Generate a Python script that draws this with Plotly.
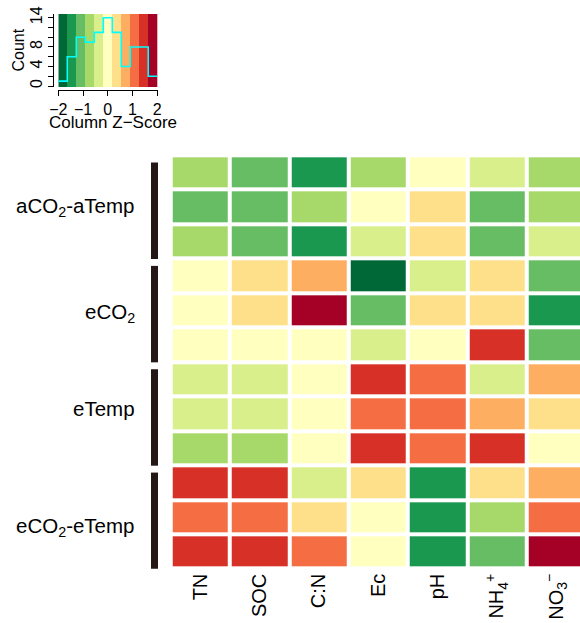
import numpy as np
import plotly.graph_objects as go

# ---------------- data ----------------
columns = ["TN", "SOC", "C:N", "Ec", "pH", "NH<sub>4</sub><sup>+</sup>", "NO<sub>3</sub><sup>−</sup>"]
groups = ["aCO<sub>2</sub>-aTemp", "eCO<sub>2</sub>", "eTemp", "eCO<sub>2</sub>-eTemp"]
group_sizes = [3, 3, 3, 3]

# column z-scores, rows top to bottom
zscores = [
    [-0.75, -1.12, -1.48, -0.70, 0.05, -0.38, -0.74],
    [-1.08, -1.15, -0.80, -0.05, 0.33, -1.05, -0.68],
    [-0.71, -1.02, -1.52, -0.41, 0.40, -1.10, -0.33],
    [0.08, 0.30, 0.70, -1.90, -0.30, 0.38, -1.15],
    [0.02, 0.42, 1.88, -1.05, 0.35, 0.30, -1.50],
    [-0.10, -0.02, 0.12, -0.45, 0.06, 1.40, -1.00],
    [-0.40, -0.35, 0.10, 1.45, 1.02, -0.30, 0.78],
    [-0.37, -0.42, 0.00, 1.15, 1.08, 0.70, 0.25],
    [-0.62, -0.66, -0.08, 1.50, 1.12, 1.32, -0.12],
    [1.38, 1.42, -0.28, 0.40, -1.40, 0.45, 0.62],
    [1.05, 1.10, 0.28, 0.15, -1.55, -0.80, 1.00],
    [1.46, 1.35, 0.95, -0.12, -1.38, -1.20, 1.75],
]

key_ticks = [-2, -1, 0, 1, 2]
key_ticktext = ["−2", "−1", "0", "1", "2"]
count_ticks = [0, 2, 4, 6, 8, 10, 12, 14]
count_ticktext = ["0", "", "4", "", "8", "", "", "14"]

palette = ["#006837", "#1A9850", "#66BD63", "#A6D96A", "#D9EF8B", "#FFFFBF",
           "#FEE08B", "#FDAE61", "#F46D43", "#D73027", "#A50026"]

# ---------------- derived ----------------
Z = np.array(zscores)
nrow, ncol = Z.shape
n = len(palette)
zmin, zmax = -2.0, 2.0
edges = np.linspace(zmin, zmax, n + 1)
centers = (edges[:-1] + edges[1:]) / 2
counts, _ = np.histogram(Z.flatten(), bins=edges)

cs = []
for i, c in enumerate(palette):
    cs.append([i / n, c])
    cs.append([(i + 1) / n, c])

W, H = 580, 623
FONT = "Liberation Sans, Arial, sans-serif"

def px(v):
    return v / W

def py(v):
    return 1 - v / H

fig = go.Figure()

# main heatmap
fig.add_trace(go.Heatmap(
    z=Z, x=list(range(ncol)), y=list(range(nrow)),
    colorscale=cs, zmin=zmin, zmax=zmax, xgap=4, ygap=4,
    showscale=False, xaxis="x", yaxis="y", hoverinfo="skip"))

# colour key strip
fig.add_trace(go.Heatmap(
    z=[centers], x=edges, y=[-1, 16], colorscale=cs, zmin=zmin, zmax=zmax,
    showscale=False, xaxis="x2", yaxis="y2", hoverinfo="skip"))

# histogram line
fig.add_trace(go.Scatter(
    x=edges, y=np.append(counts, counts[-1]), mode="lines",
    line=dict(color="#00FFFF", width=1.6, shape="hv"),
    xaxis="x2", yaxis="y2", showlegend=False, hoverinfo="skip"))

fig.update_layout(
    width=W, height=H, margin=dict(l=0, r=0, t=0, b=0, pad=0, autoexpand=False),
    paper_bgcolor="white", plot_bgcolor="white",
    font=dict(family=FONT, color="black"),
    showlegend=False,
    xaxis=dict(domain=[px(170.7), 1.0], range=[-0.5, 6.402],
               tickvals=list(range(ncol)), ticktext=columns, tickangle=-90,
               tickfont=dict(size=20), showgrid=False, zeroline=False,
               showline=False, ticks="", anchor="y", automargin=False),
    yaxis=dict(domain=[py(568.7), py(155.3)], range=[nrow - 0.5, -0.5],
               visible=False, anchor="x", automargin=False),
    xaxis2=dict(domain=[px(58.3), px(158)], range=[-2, 2.03], anchor="free",
                position=py(89.5), tickvals=key_ticks, ticktext=key_ticktext,
                ticks="outside", ticklen=5, tickcolor="black", tickwidth=1,
                showline=True, linecolor="black", linewidth=1,
                showgrid=False, zeroline=False, tickfont=dict(size=16),
                automargin=False),
    yaxis2=dict(domain=[py(87), py(14)], range=[-0.2, 14.76], anchor="free",
                position=px(53.3), tickvals=count_ticks, ticktext=count_ticktext,
                tickangle=-90, ticks="outside", ticklen=5, tickcolor="black",
                tickwidth=1, showline=True, linecolor="black", linewidth=1,
                showgrid=False, zeroline=False, tickfont=dict(size=16),
                automargin=False),
)

annotations = [
    dict(text="Count", x=px(18), y=py(50.5), xref="paper", yref="paper",
         xanchor="center", yanchor="middle",
         textangle=-90, showarrow=False, font=dict(size=16)),
    dict(text="Column Z−Score", x=px(113), y=py(123), xref="paper", yref="paper",
         xanchor="center", yanchor="middle",
         showarrow=False, font=dict(size=17)),
]
label_shift = [0, -3, 5, -10]
shapes = []
start = 0
for g, size, sh in zip(groups, group_sizes, label_shift):
    end = start + size - 1
    mid = (start + end) / 2
    annotations.append(dict(text=g, x=px(137), xanchor="right", xref="paper",
                            y=mid, yref="y", yanchor="middle", yshift=sh,
                            showarrow=False, font=dict(size=20.5)))
    shapes.append(dict(type="rect", xref="paper", yref="y",
                       x0=px(151), x1=px(158),
                       y0=start - 0.5 + 0.21, y1=end + 0.5 + 0.01,
                       fillcolor="#231815", line=dict(width=0)))
    start = end + 1

fig.update_layout(annotations=annotations, shapes=shapes)

fig.write_html("out.html", config={"displayModeBar": False},
               post_script="document.body.style.margin='0';")
